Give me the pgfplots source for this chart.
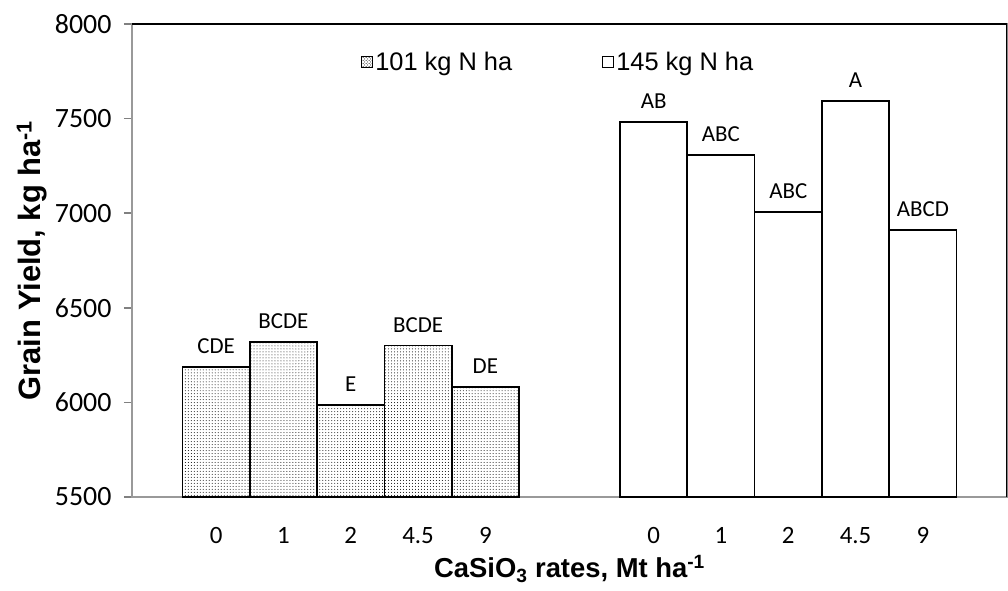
\documentclass[border=0pt]{standalone}
\usepackage{fontspec}
\setmainfont{Liberation Sans}
\newfontfamily\carlito{Carlito}
\usepackage{pgfplots}
\pgfplotsset{compat=1.18}
\usetikzlibrary{patterns}

\begin{document}
\begin{tikzpicture}
\begin{axis}[
    scale only axis,
    width=875bp, height=473bp,
    ybar, bar width=1, bar shift=0pt,
    xmin=-1.25, xmax=11.75,
    ymin=5500, ymax=8000,
    ytick={5500,6000,...,8000},
    xtick={0,1,2,3,4,6.5,7.5,8.5,9.5,10.5},
    xticklabels={0,1,2,4.5,9,0,1,2,4.5,9},
    x tick style={draw=none},
    y tick style={gray, line width=1.5bp},
    ytick pos=left,
    tick align=outside,
    major tick length=8bp,
    axis line style={gray!80, line width=1.8bp},
    /pgf/number format/assume math mode=true,
    /pgf/number format/1000 sep={},
    yticklabel style={font=\carlito\fontsize{28}{28}\selectfont, xshift=-9bp},
    xticklabel style={font=\carlito\fontsize{25}{25}\selectfont, text height=17bp, text depth=0bp, yshift=-18bp},
    xlabel={CaSiO\textsubscript{3} rates, Mt ha\textsuperscript{-1}},
    ylabel={Grain Yield, kg ha\textsuperscript{-1}},
    xlabel style={font=\bfseries\fontsize{27.5}{27.5}\selectfont, at={(axis description cs:0.5,0)}, anchor=center, yshift=-72bp},
    ylabel style={font=\bfseries\fontsize{31}{31}\selectfont, at={([xshift=-100bp]axis description cs:0,0.5)}, anchor=center},
    nodes near coords,
    point meta=explicit symbolic,
    nodes near coords style={font=\carlito\fontsize{23}{23}\selectfont, anchor=south, yshift=9bp},
    legend style={at={(0.487,0.92)}, anchor=center, draw=none, fill=none,
        font=\fontsize{25.5}{25.5}\selectfont, legend columns=2,
        /tikz/every even column/.append style={column sep=88bp}},
]
\addplot[draw=black, line width=1.6bp, pattern=dots, pattern color=black,
    legend image code/.code={\draw[line width=1.3bp, pattern=crosshatch dots, pattern color=black] (0bp,-5.5bp) rectangle (11bp,5.5bp);}]
    coordinates {(0,6187) [CDE] (1,6319) [BCDE] (2,5986) [E] (3,6300) [BCDE] (4,6081) [DE]};
\addlegendentry{101 kg N ha}
\addplot[draw=black, line width=1.6bp, fill=white,
    legend image code/.code={\draw[line width=1bp] (0bp,-5.5bp) rectangle (11bp,5.5bp);}]
    coordinates {(6.5,7482) [AB] (7.5,7308) [ABC] (8.5,7006) [ABC] (9.5,7593) [A] (10.5,6911) [ABCD]};
\addlegendentry{145 kg N ha}
\draw[black, line width=1.5bp] (rel axis cs:0,1) -- (rel axis cs:1,1) -- (rel axis cs:1,0);
\end{axis}
\pgfresetboundingbox
\path[use as bounding box] ([shift={(-132bp,-94bp)}]current axis.south west) rectangle ([shift={(1bp,24bp)}]current axis.north east);
\end{tikzpicture}
\end{document}
